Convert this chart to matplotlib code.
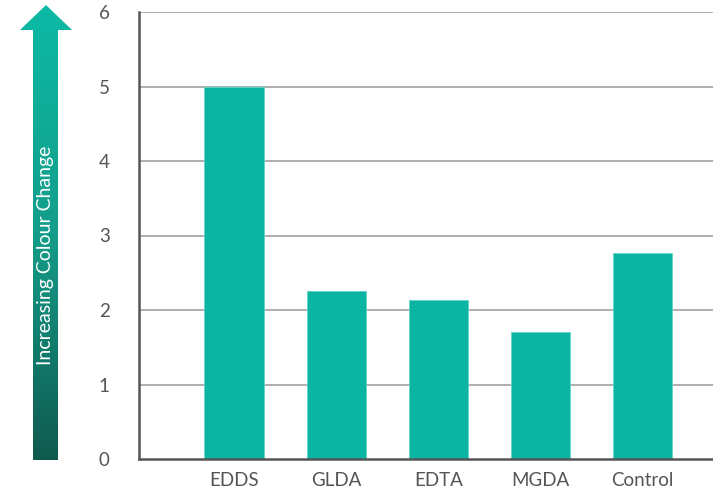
import numpy as np
import matplotlib
matplotlib.use("Agg")
import matplotlib.pyplot as plt
from matplotlib.patches import Polygon
from matplotlib.colors import LinearSegmentedColormap

categories = ["EDDS", "GLDA", "EDTA", "MGDA", "Control"]
values = [5.0, 2.26, 2.14, 1.71, 2.77]
yticks = [0, 1, 2, 3, 4, 5, 6]
arrow_label = "Increasing Colour Change"

W, H = 713, 496
fig = plt.figure(figsize=(W / 100, H / 100), dpi=100)
plt.rcParams['font.family'] = ['Lato', 'DejaVu Sans']

# main axes
x0, x1 = 139, 713
y0, y1 = 459, 12
ax = fig.add_axes([x0 / W, 1 - y0 / H, (x1 - x0) / W, (y0 - y1) / H])
xs = np.arange(len(categories))
ax.bar(xs, values, width=0.58, color="#0cb5a3", edgecolor="#5fd6c8", linewidth=0.6, zorder=3)
ax.set_xlim(-0.93, 4.69)
ax.set_ylim(0, 6)
ax.set_yticks(yticks)
ax.set_xticks(xs)
ax.set_xticklabels(categories)
for y in yticks[1:]:
    ax.axhline(y, color="#a8a8a8", linewidth=1.3, zorder=1)
ax.tick_params(length=0, labelsize=13.5, labelcolor="#555555")
ax.tick_params(axis="y", pad=21)
ax.tick_params(axis="x", pad=9)
for s in ["top", "right"]:
    ax.spines[s].set_visible(False)
for s in ["left", "bottom"]:
    ax.spines[s].set_color("#555555")
    ax.spines[s].set_linewidth(1.8)
    ax.spines[s].set_zorder(4)

# gradient arrow
aax = fig.add_axes([0, 0, 1, 1])
aax.set_xlim(0, W)
aax.set_ylim(H, 0)
aax.axis("off")
aax.patch.set_alpha(0)
pts = [(33, 460), (33, 30), (20, 30), (46, 5), (72, 30), (58, 30), (58, 460)]
poly = Polygon(pts, closed=True, facecolor="none", edgecolor="none")
aax.add_patch(poly)
cmap = LinearSegmentedColormap.from_list("g", ["#0cbaa6", "#149d8a", "#0f5a4e"])
grad = np.linspace(0, 1, 256).reshape(-1, 1)
im = aax.imshow(grad, cmap=cmap, extent=(18, 74, 462, 4), aspect="auto", origin="upper")
im.set_clip_path(poly)
aax.text(46, 255, arrow_label, rotation=90, ha="center", va="center",
         color="white", fontsize=14)

fig.savefig("out.png", dpi=100)
